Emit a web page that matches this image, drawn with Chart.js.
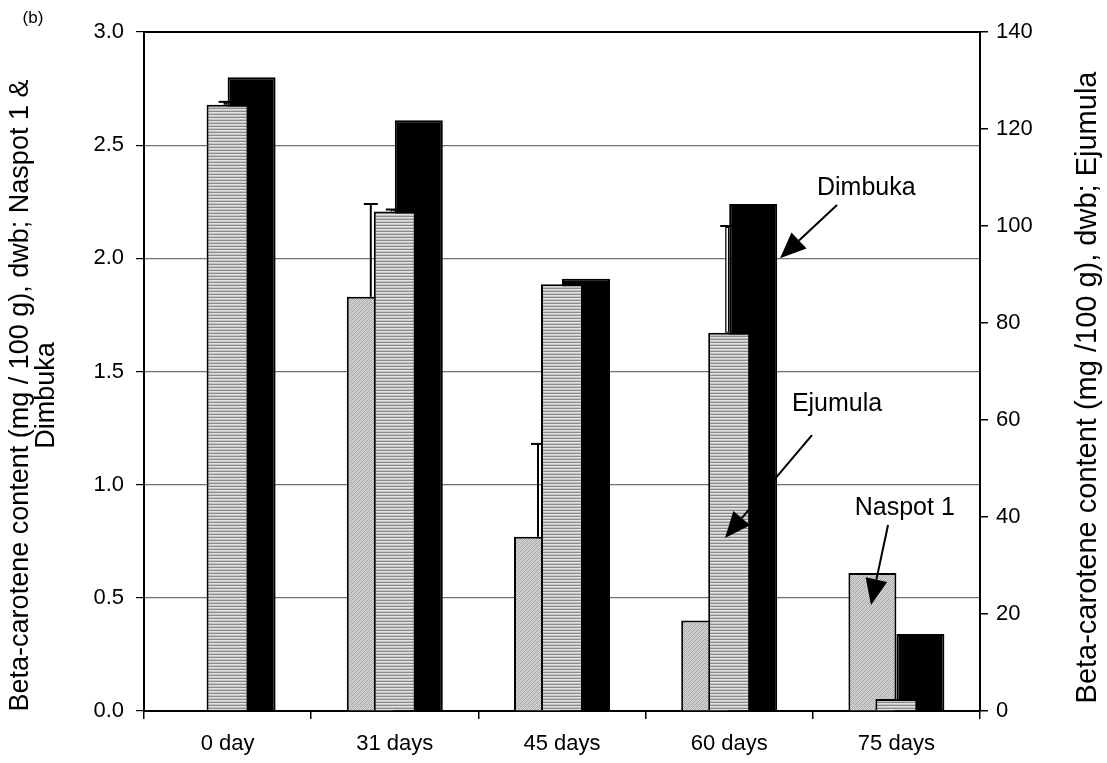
<!DOCTYPE html>
<html>
<head>
<meta charset="utf-8">
<script src="https://cdn.jsdelivr.net/npm/chart.js@4/dist/chart.umd.min.js"></script>
<style>
  body { margin: 0; background: #fff; }
</style>
</head>
<body>
<canvas id="myChart" width="1107" height="763"></canvas>
<script>
  // values
  const days = ['0 day', '31 days', '45 days', '60 days', '75 days'];
  const naspot = [null, 1.83, 0.77, 0.40, 0.61];      // left axis
  const naspotErr = [null, 0.41, 0.41, null, null];
  const ejumula = [125, 103, 88, 78, 2.5];           // right axis
  const ejumulaErr = [0.6, 0.4, null, 22, null];
  const dimbuka = [2.80, 2.61, 1.91, 2.24, 0.34];     // left axis

  const FONT = 'Liberation Sans, Arial, sans-serif';

  function stripes() {
    const c = document.createElement('canvas');
    c.width = 4; c.height = 3;
    const g = c.getContext('2d');
    g.fillStyle = '#8a8a8a'; g.fillRect(0, 0, 4, 1);
    g.fillStyle = '#e2e2e2'; g.fillRect(0, 1, 4, 1);
    g.fillStyle = '#c4c4c4'; g.fillRect(0, 2, 4, 1);
    return g.createPattern(c, 'repeat');
  }

  function hatch() {
    const c = document.createElement('canvas');
    c.width = 4; c.height = 4;
    const g = c.getContext('2d');
    g.fillStyle = '#d4d4d4'; g.fillRect(0, 0, 4, 4);
    g.fillStyle = '#a6a6a6';
    for (let i = 0; i < 4; i++) g.fillRect(3 - i, i, 1, 1);
    g.fillStyle = '#bcbcbc';
    for (let i = 0; i < 4; i++) g.fillRect((5 - i) % 4, i, 1, 1);
    return g.createPattern(c, 'repeat');
  }

  // arrows + labels, in (category index, left-axis value) units
  const notes = [
    { text: 'Dimbuka', tx: 3.82, ty: 2.31, fx: 3.645, fy: 2.236, ax: 3.304, ay: 2.0 },
    { text: 'Ejumula', tx: 3.645, ty: 1.356, fx: 3.495, fy: 1.219, ax: 2.975, ay: 0.764 },
    { text: 'Naspot 1', tx: 4.05, ty: 0.897, fx: 3.95, fy: 0.822, ax: 3.848, ay: 0.468 }
  ];

  const errorBars = {
    id: 'errorBars',
    afterDatasetDraw(chart, args) {
      const ds = chart.data.datasets[args.index];
      if (!ds.errors) return;
      const meta = args.meta;
      const scale = chart.scales[ds.yAxisID];
      const ctx = chart.ctx;
      ctx.save();
      ds.errors.forEach((e, i) => {
        if (!e || ds.data[i] == null) return;
        const bar = meta.data[i];
        const x = bar.x + (ds.errShift || 0);
        const top = scale.getPixelForValue(ds.data[i] + e);
        ctx.strokeStyle = '#000';
        ctx.lineWidth = ds.errCore ? 4 : 2;
        ctx.beginPath();
        ctx.moveTo(x, bar.y);
        ctx.lineTo(x, top);
        ctx.stroke();
        if (ds.errCore) {
          ctx.strokeStyle = '#fff';
          ctx.lineWidth = 1.5;
          ctx.beginPath();
          ctx.moveTo(x, bar.y - 1);
          ctx.lineTo(x, top + 2);
          ctx.stroke();
        }
        ctx.strokeStyle = '#000';
        ctx.lineWidth = 2;
        ctx.beginPath();
        ctx.moveTo(x - 7, top);
        ctx.lineTo(x + 7, top);
        ctx.stroke();
      });
      ctx.restore();
    }
  };

  const extras = {
    id: 'extras',
    afterDraw(chart) {
      const ctx = chart.ctx;
      const a = chart.chartArea;
      const ys = chart.scales.yL;
      const px = v => a.left + (v + 0.5) * (a.right - a.left) / days.length;
      const py = v => ys.getPixelForValue(v);
      ctx.save();
      // frame top
      ctx.strokeStyle = '#000';
      ctx.lineWidth = 2;
      ctx.beginPath();
      ctx.moveTo(a.left, a.top);
      ctx.lineTo(a.right, a.top);
      ctx.stroke();

      ctx.fillStyle = '#000';
      ctx.textAlign = 'center';
      ctx.textBaseline = 'middle';
      ctx.font = '17px ' + FONT;
      ctx.fillText('(b)', 33, 18);

      // axis titles
      const mid = (a.top + a.bottom) / 2;
      ctx.font = '27px ' + FONT;
      ctx.save();
      ctx.translate(21, mid + 24);
      ctx.rotate(-Math.PI / 2);
      ctx.fillText('Beta-carotene content (mg / 100 g), dwb; Naspot 1 &', 0, 0);
      ctx.fillText('Dimbuka', 0, 26);
      ctx.restore();
      ctx.font = '29px ' + FONT;
      ctx.save();
      ctx.translate(1088, mid + 16);
      ctx.rotate(-Math.PI / 2);
      ctx.fillText('Beta-carotene content (mg /100 g), dwb; Ejumula', 0, 0);
      ctx.restore();

      // annotations
      ctx.font = '25px ' + FONT;
      ctx.lineWidth = 2;
      notes.forEach(n => {
        ctx.fillText(n.text, px(n.tx), py(n.ty));
        const x1 = px(n.fx), y1 = py(n.fy), x2 = px(n.ax), y2 = py(n.ay);
        const ang = Math.atan2(y2 - y1, x2 - x1);
        const len = 26, half = 11;
        const bx = x2 - len * Math.cos(ang), by = y2 - len * Math.sin(ang);
        ctx.beginPath();
        ctx.moveTo(x1, y1);
        ctx.lineTo(bx, by);
        ctx.stroke();
        ctx.beginPath();
        ctx.moveTo(x2, y2);
        ctx.lineTo(bx + half * Math.sin(ang), by - half * Math.cos(ang));
        ctx.lineTo(bx - half * Math.sin(ang), by + half * Math.cos(ang));
        ctx.closePath();
        ctx.fill();
      });
      ctx.restore();
    }
  };

  const tickFont = { family: FONT, size: 22 };
  const catW = (980 - 144) / days.length;

  const ctx = document.getElementById('myChart').getContext('2d');
  const myChart = new Chart(ctx, {
    type: 'bar',
    data: {
      labels: days,
      datasets: [
        {
          label: 'Naspot 1',
          data: naspot,
          errors: naspotErr,
          yAxisID: 'yL',
          backgroundColor: hatch(),
          borderColor: '#000',
          borderWidth: 2,
          categoryPercentage: 96 / catW,
          barPercentage: 1,
          order: 1
        },
        {
          label: 'Ejumula',
          data: ejumula,
          errors: ejumulaErr,
          errShift: -2,
          errCore: true,
          yAxisID: 'yR',
          grouped: false,
          backgroundColor: stripes(),
          borderColor: '#000',
          borderWidth: 2,
          categoryPercentage: 42 / catW,
          barPercentage: 1,
          order: 0
        },
        {
          label: 'Dimbuka',
          data: dimbuka,
          yAxisID: 'yL',
          backgroundColor: '#000',
          borderColor: '#000',
          borderWidth: 2,
          categoryPercentage: 96 / catW,
          barPercentage: 1,
          order: 2
        }
      ]
    },
    options: {
      responsive: false,
      animation: false,
      layout: { padding: { top: 32, left: 0, right: 0, bottom: 0 } },
      plugins: { legend: { display: false }, tooltip: { enabled: false } },
      scales: {
        x: {
          type: 'category',
          offset: true,
          grid: { offset: true, drawOnChartArea: false, tickLength: 8, color: '#000', lineWidth: 1.5 },
          border: { color: '#000', width: 2 },
          ticks: { font: tickFont, color: '#000', padding: 12, maxRotation: 0 },
          afterFit: s => { s.height = 52; }
        },
        yL: {
          position: 'left',
          min: 0,
          max: 3,
          ticks: { stepSize: 0.5, callback: v => v.toFixed(1), font: tickFont, color: '#000', padding: 12 },
          grid: { color: '#707070', tickColor: '#000', tickLength: 8, lineWidth: 1.2 },
          border: { color: '#000', width: 2 },
          afterFit: s => { s.width = 144; }
        },
        yR: {
          position: 'right',
          min: 0,
          max: 140,
          ticks: { stepSize: 20, font: tickFont, color: '#000', padding: 8 },
          grid: { drawOnChartArea: false, color: '#000', tickLength: 8, lineWidth: 1.5 },
          border: { color: '#000', width: 2 },
          afterFit: s => { s.width = 127; }
        }
      }
    },
    plugins: [errorBars, extras]
  });
</script>
</body>
</html>
